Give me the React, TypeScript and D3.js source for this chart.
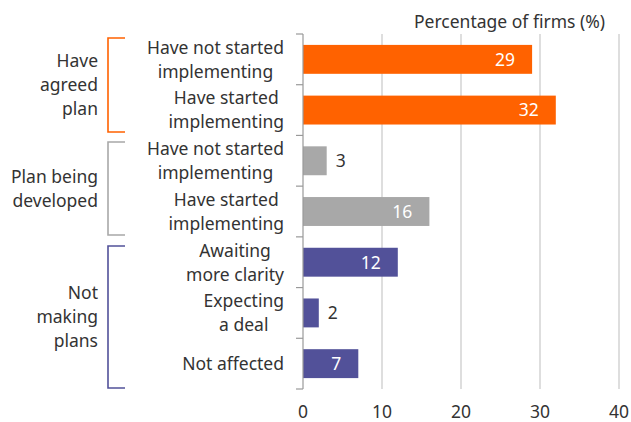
import React from "react";
import * as d3 from "d3";

const categories = [
  ["Have not started", "implementing"],
  ["Have started", "implementing"],
  ["Have not started", "implementing"],
  ["Have started", "implementing"],
  ["Awaiting", "more clarity"],
  ["Expecting", "a deal"],
  ["Not affected"],
];
const values = [29, 32, 3, 16, 12, 2, 7];
const groupOf = [0, 0, 1, 1, 2, 2, 2];
const groups = [
  { lines: ["Have", "agreed", "plan"], start: 0, end: 1 },
  { lines: ["Plan being", "developed"], start: 2, end: 3 },
  { lines: ["Not", "making", "plans"], start: 4, end: 6 },
];
const groupColors = ["#FF6200", "#A8A8A8", "#525199"];
const xTicks = [0, 10, 20, 30, 40];
const axisTitle = "Percentage of firms (%)";

const W = 631;
const H = 422;
const FONT = "'Noto Sans', sans-serif";
const TEXT = "#333333";
const FS = 17.5;

let ctx: CanvasRenderingContext2D | null = null;
function measure(s: string): number {
  if (!ctx) {
    const c = document.createElement("canvas");
    ctx = c.getContext("2d");
  }
  if (!ctx) return s.length * 8;
  ctx.font = `${FS}px 'Noto Sans', sans-serif`;
  return ctx.measureText(s).width;
}

export default function App() {
  const x = d3.scaleLinear().domain([0, 40]).range([303, 619]);
  const y = d3
    .scaleBand<number>()
    .domain(d3.range(values.length))
    .range([34, 389])
    .paddingInner(0.43)
    .paddingOuter(0.215);
  const bandTop = (i: number) => 34 + i * (355 / values.length);
  const bandCenter = (i: number) => bandTop(i) + 355 / values.length / 2;
  const lh = 24;
  const bracketTops = [38, 142, 246];
  const bracketBottoms = [132, 235, 388];

  return (
    <svg
      width={W}
      height={H}
      style={{ position: "absolute", left: 0, top: 0, background: "#fff" }}
      fontFamily={FONT}
    >
      {xTicks.slice(1).map((t) => (
        <line key={t} x1={x(t)} x2={x(t)} y1={34} y2={389} stroke="#C8C8C8" strokeWidth={1.2} />
      ))}
      {values.map((v, i) => (
        <rect
          key={i}
          x={x(0)}
          y={y(i)}
          width={x(v) - x(0)}
          height={y.bandwidth()}
          fill={groupColors[groupOf[i]]}
        />
      ))}
      <line x1={x(0)} x2={x(0)} y1={34} y2={389} stroke="#999" strokeWidth={1.2} />
      {d3.range(values.length + 1).map((i) => (
        <line key={i} x1={x(0) - 7} x2={x(0)} y1={bandTop(i)} y2={bandTop(i)} stroke="#999" strokeWidth={1.2} />
      ))}
      {values.map((v, i) => {
        const inside = v >= 5;
        const cy = (y(i) as number) + y.bandwidth() / 2;
        return (
          <text
            key={i}
            x={inside ? x(v) - 17 : x(v) + 9}
            y={cy}
            dy="0.36em"
            textAnchor={inside ? "end" : "start"}
            fill={inside ? "#fff" : TEXT}
            fontSize={FS}
          >
            {v}
          </text>
        );
      })}
      {categories.map((lines, i) => {
        const c = bandCenter(i);
        const n = lines.length;
        const maxW = Math.max(...lines.map(measure));
        const cx = 284 - maxW / 2;
        return (
          <text key={i} textAnchor="middle" fill={TEXT} fontSize={FS}>
            {lines.map((l, k) => (
              <tspan key={k} x={cx} y={c + (k - (n - 1) / 2) * lh} dy="0.36em">
                {l}
              </tspan>
            ))}
          </text>
        );
      })}
      {groups.map((g, gi) => {
        const top = bracketTops[gi];
        const bot = bracketBottoms[gi];
        const c = (top + bot) / 2;
        const n = g.lines.length;
        return (
          <g key={gi}>
            <path
              d={`M125,${top}H108V${bot}H125`}
              fill="none"
              stroke={groupColors[gi]}
              strokeWidth={1.6}
            />
            <text textAnchor="end" fill={TEXT} fontSize={FS}>
              {g.lines.map((l, k) => (
                <tspan key={k} x={98} y={c + (k - (n - 1) / 2) * lh} dy="0.36em">
                  {l}
                </tspan>
              ))}
            </text>
          </g>
        );
      })}
      {xTicks.map((t) => (
        <text key={t} x={x(t)} y={412} dy="0.36em" textAnchor="middle" fill={TEXT} fontSize={FS}>
          {t}
        </text>
      ))}
      <text x={605} y={22} dy="0.36em" textAnchor="end" fill={TEXT} fontSize={FS}>
        {axisTitle}
      </text>
    </svg>
  );
}
